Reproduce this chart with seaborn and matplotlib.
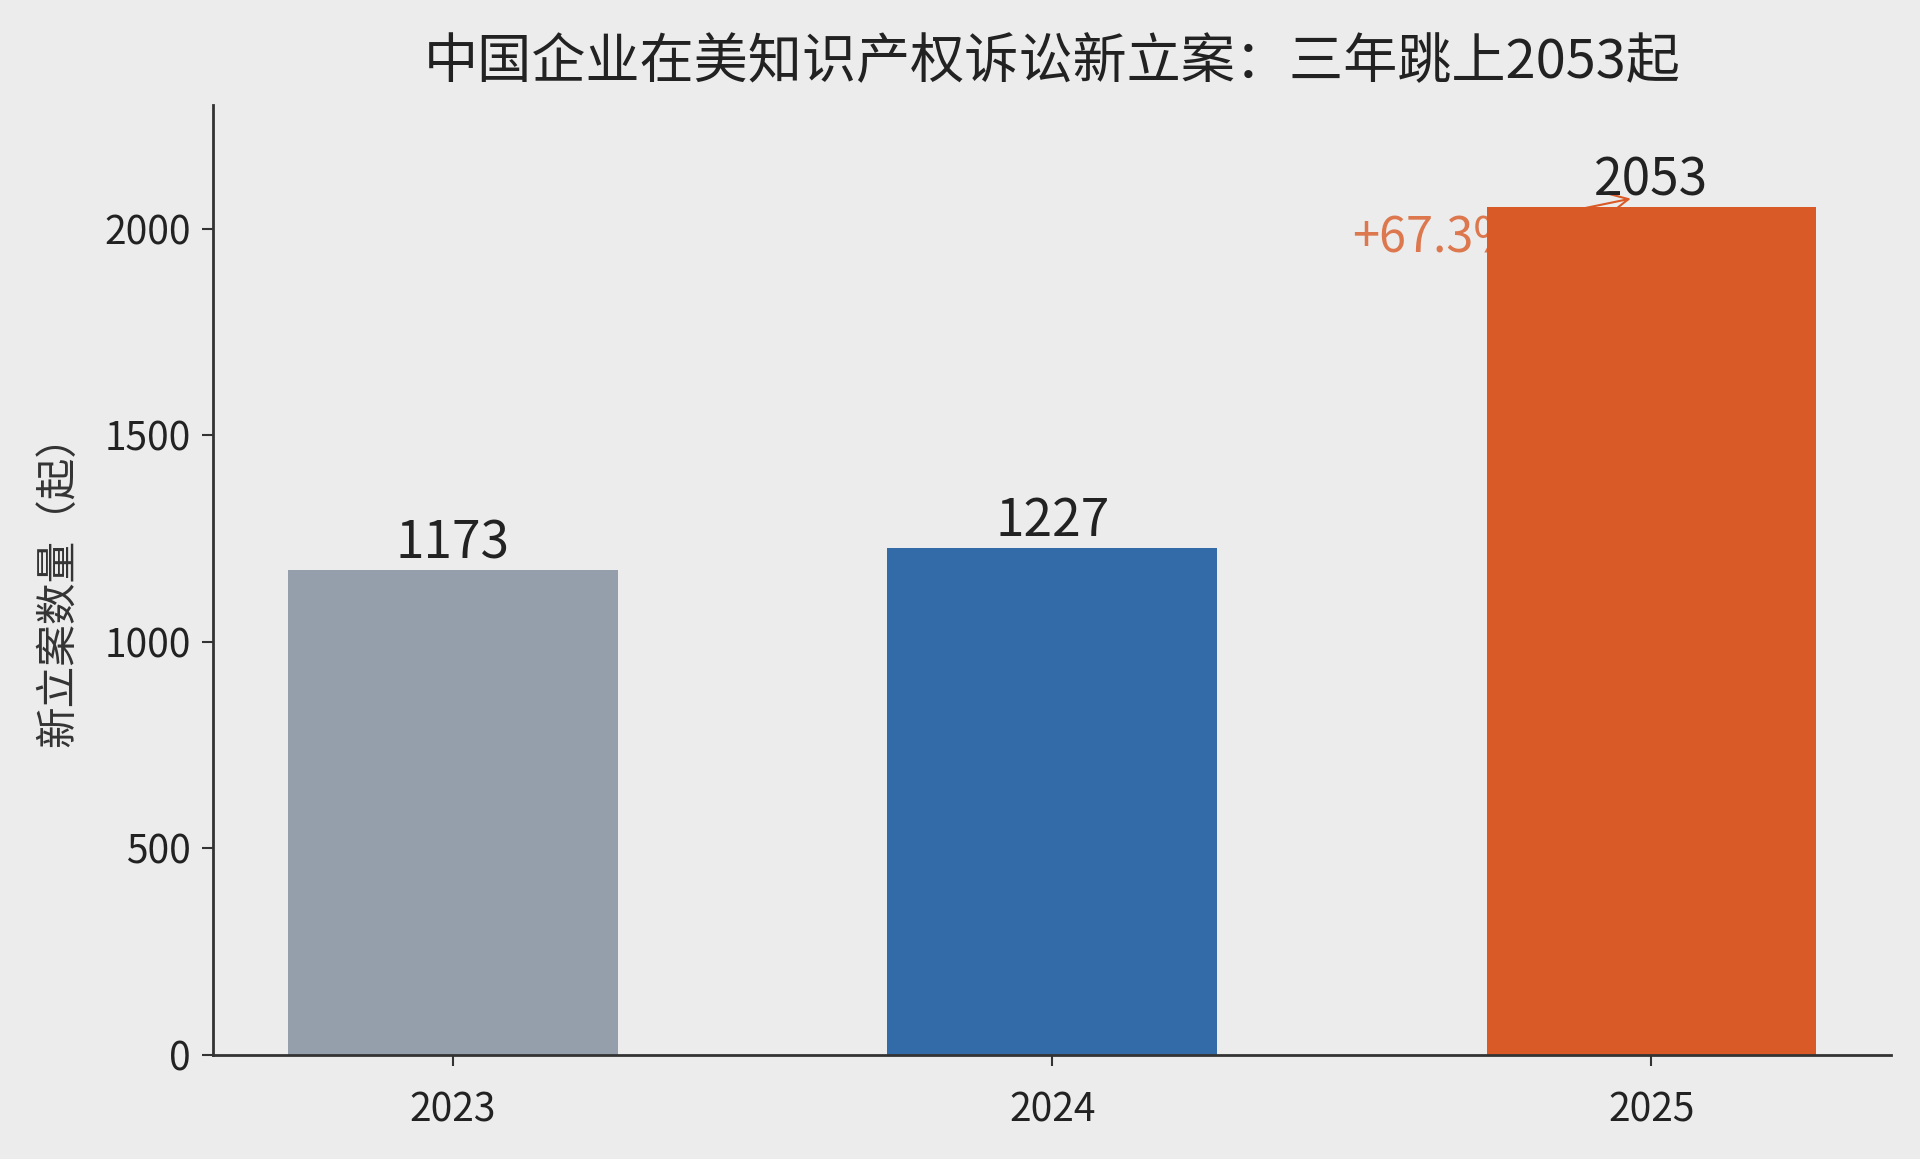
import matplotlib
matplotlib.use("Agg")
import matplotlib.pyplot as plt
import seaborn as sns
import pandas as pd

years = ["2023", "2024", "2025"]
cases = [1173, 1227, 2053]
bar_colors = ["#949fab", "#336aa8", "#d95a27"]
growth_text = "+67.3%"

df = pd.DataFrame({"year": years, "cases": cases})

sns.set_theme(style="white")
plt.rcParams["font.family"] = ["Noto Sans CJK SC", "DejaVu Sans"]
plt.rcParams["axes.unicode_minus"] = False

bg = "#ececec"
fig, ax = plt.subplots(figsize=(19.2, 11.59), dpi=100)
fig.patch.set_facecolor(bg)
ax.set_facecolor(bg)
fig.subplots_adjust(left=0.111, right=0.985, bottom=0.09, top=0.909)

sns.barplot(data=df, x="year", y="cases", hue="year", palette=bar_colors,
            width=0.55, saturation=1, linewidth=0, legend=False, ax=ax, zorder=2)

for c in ax.containers:
    ax.bar_label(c, padding=0, fontsize=37, color="#222222")

# 增幅标注（被柱子遮住一部分）
ax.annotate(growth_text, xy=(1.97, 2075), xytext=(1.5, 1976),
            fontsize=35, color="#d95a27", alpha=0.8, va="center", ha="left",
            arrowprops=dict(arrowstyle="->", color="#d95a27", lw=1.5),
            zorder=1)

ax.set_xlim(-0.4, 2.4)
ax.set_ylim(0, max(cases) * 1.12)
ax.set_yticks([0, 500, 1000, 1500, 2000])

ax.set_title("中国企业在美知识产权诉讼新立案：三年跳上2053起", fontsize=39,
             color="#222222", pad=20, fontweight="medium")
ax.set_xlabel("")
ax.set_ylabel("新立案数量（起）", fontsize=30, color="#333333", labelpad=18)

for side in ["top", "right"]:
    ax.spines[side].set_visible(False)
for side in ["left", "bottom"]:
    ax.spines[side].set_color("#333333")
    ax.spines[side].set_linewidth(2)

ax.tick_params(axis="both", bottom=True, left=True, labelsize=28, colors="#333333",
               length=8, width=1.5, direction="out", pad=8)
ax.tick_params(axis="x", pad=18)
ax.tick_params(axis="both", labelcolor="#222222")

fig.savefig("out.png", dpi=100, facecolor=bg)
